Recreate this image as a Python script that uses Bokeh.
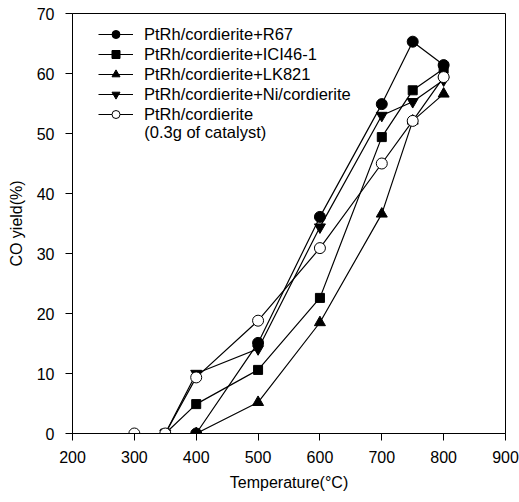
from bokeh.plotting import figure
from bokeh.models import FixedTicker, Legend, LegendItem, Label, Range1d
from bokeh.embed import file_html
from bokeh.resources import INLINE

FONT = "Liberation Sans"

# Data
r67_x = [400, 500, 600, 700, 750, 800]
r67_y = [0, 15.1, 36.1, 54.9, 65.3, 61.4]

ici_x = [350, 400, 500, 600, 700, 750, 800]
ici_y = [0, 4.9, 10.6, 22.6, 49.4, 57.2, 60.8]

lk_x = [400, 500, 600, 700, 750, 800]
lk_y = [0, 5.2, 18.5, 36.6, 52.1, 56.6]

ni_x = [350, 400, 500, 600, 700, 750, 800]
ni_y = [0, 10.0, 14.1, 34.4, 53.0, 55.3, 58.9]

ref_x = [300, 350, 400, 500, 600, 700, 750, 800]
ref_y = [0, 0, 9.35, 18.8, 30.9, 45.0, 52.1, 59.4]

labels = ["PtRh/cordierite+R67", "PtRh/cordierite+ICI46-1", "PtRh/cordierite+LK821",
          "PtRh/cordierite+Ni/cordierite", "PtRh/cordierite"]
note = "(0.3g of catalyst)"

x_ticks = [200, 300, 400, 500, 600, 700, 800, 900]
y_ticks = [0, 10, 20, 30, 40, 50, 60, 70]

p = figure(width=519, height=502, output_backend="svg", toolbar_location=None,
           x_range=Range1d(200, 900), y_range=Range1d(0, 70),
           min_border_left=72, min_border_right=14, min_border_top=13, min_border_bottom=69)

p.background_fill_color = "white"
p.border_fill_color = "white"
p.outline_line_color = "black"
p.outline_line_width = 1
p.xgrid.visible = False
p.ygrid.visible = False

for ax in (p.xaxis[0], p.yaxis[0]):
    ax.major_label_text_font = FONT
    ax.major_label_text_font_size = "16px"
    ax.major_label_text_color = "black"
    ax.axis_label_text_font = FONT
    ax.axis_label_text_font_size = "16px"
    ax.axis_label_text_font_style = "normal"
    ax.axis_label_text_color = "black"
    ax.major_tick_in = 0
    ax.major_tick_out = 7
    ax.minor_tick_in = 0
    ax.minor_tick_out = 0
    ax.axis_line_color = "black"
    ax.major_tick_line_color = "black"

p.xaxis.ticker = FixedTicker(ticks=x_ticks)
p.yaxis.ticker = FixedTicker(ticks=y_ticks)
p.xaxis.axis_label = "Temperature(°C)"
p.yaxis.axis_label = "CO yield(%)"
p.xaxis.major_label_standoff = 10
p.yaxis.major_label_standoff = 11
p.xaxis.axis_label_standoff = 8
p.yaxis.axis_label_standoff = 9

lw = 1.2

def series(xs, ys, marker, size, fill):
    ln = p.line(xs, ys, line_color="black", line_width=lw)
    sc = p.scatter(xs, ys, marker=marker, size=size, fill_color=fill,
                   line_color="black", line_width=1)
    return [ln, sc]

r_lk = series(lk_x, lk_y, "triangle", 11, "black")
r_ici = series(ici_x, ici_y, "square", 9, "black")
r_ni = series(ni_x, ni_y, "inverted_triangle", 11, "black")
r_r67 = series(r67_x, r67_y, "circle", 11, "black")
r_ref = series(ref_x, ref_y, "circle", 11, "white")

items = [LegendItem(label=labels[0], renderers=r_r67),
         LegendItem(label=labels[1], renderers=r_ici),
         LegendItem(label=labels[2], renderers=r_lk),
         LegendItem(label=labels[3], renderers=r_ni),
         LegendItem(label=labels[4], renderers=r_ref)]

legend = Legend(items=items, location=(26, 309), padding=0, margin=0, spacing=0,
                border_line_color=None, background_fill_alpha=0,
                glyph_width=35, glyph_height=20, label_height=20, label_standoff=11,
                label_text_font=FONT, label_text_font_size="16.5px", label_text_color="black")
p.add_layout(legend, "center")

p.add_layout(Label(x=316, y=50.3, text=note, text_font=FONT, text_font_size="16.5px",
                   text_baseline="middle", text_align="left", text_color="black"))

open("out.html", "w").write(file_html(p, INLINE))
